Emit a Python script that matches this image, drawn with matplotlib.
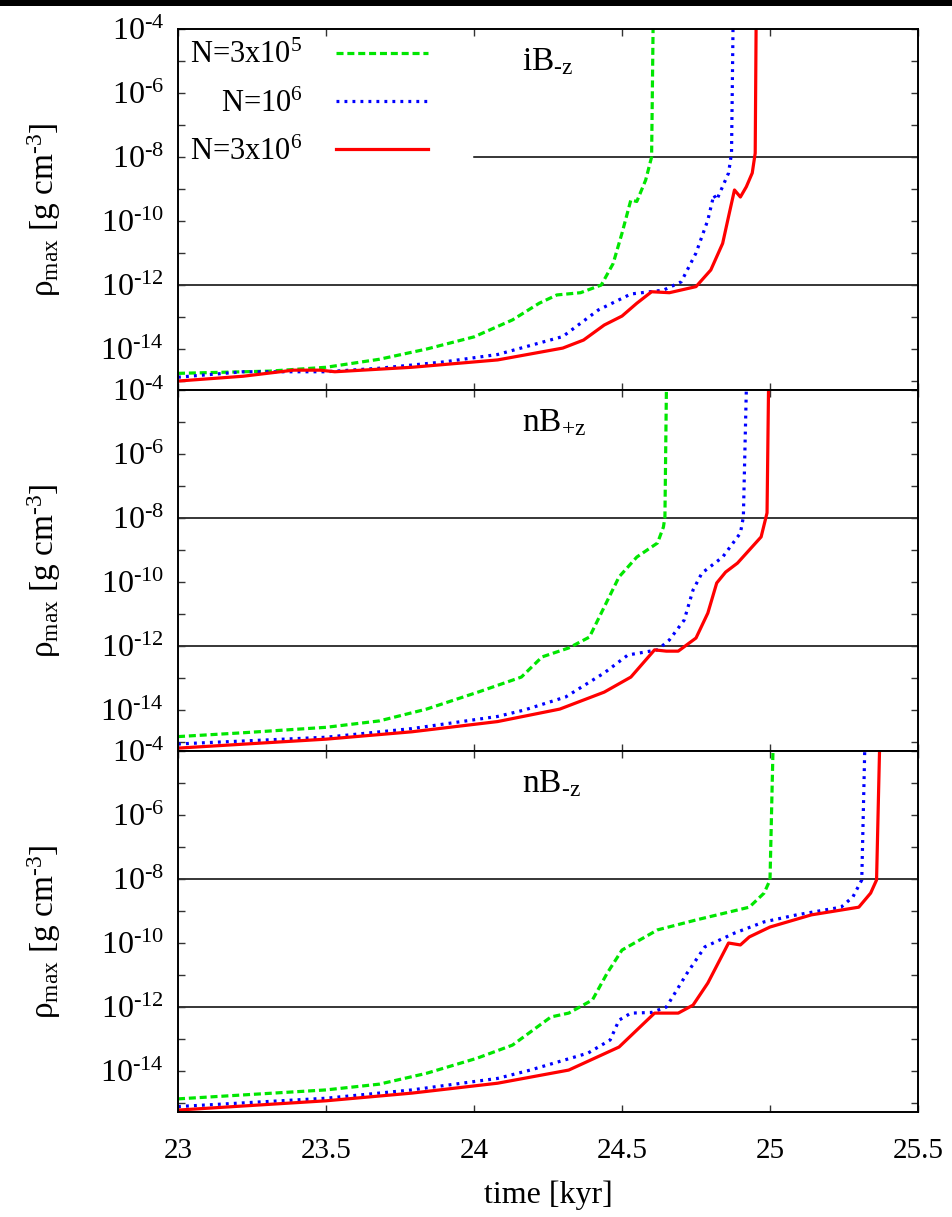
import numpy as np
import matplotlib
matplotlib.use("Agg")
from matplotlib import pyplot as plt
from matplotlib.patches import Rectangle
from matplotlib.ticker import FixedLocator, FuncFormatter, NullFormatter

plt.rcParams['font.family'] = ['Liberation Serif', 'DejaVu Serif']
plt.rcParams['mathtext.fontset'] = 'custom'
plt.rcParams['mathtext.rm'] = 'Liberation Serif'
plt.rcParams['mathtext.it'] = 'Liberation Serif:italic'
plt.rcParams['mathtext.bf'] = 'Liberation Serif:bold'

HY = '\u2010'  # short hyphen, like the gnuplot labels

# ---- data: time [kyr] and log10(rho_max [g cm^-3]) ----
# panel iB-z
ib_t_3e5 = [23.0, 23.31, 23.5, 23.68, 23.84, 24.0, 24.13, 24.22, 24.28, 24.36, 24.43,
            24.47, 24.50, 24.53, 24.55, 24.58, 24.60, 24.605]
ib_r_3e5 = [-14.76, -14.69, -14.57, -14.32, -14.0, -13.62, -13.09, -12.57, -12.31, -12.24, -12.0,
            -11.33, -10.38, -9.34, -9.39, -8.72, -8.0, -4.0]
ib_t_1e6 = [23.0, 23.22, 23.5, 23.68, 23.9, 24.08, 24.30, 24.42, 24.53, 24.64, 24.70,
            24.75, 24.79, 24.81, 24.82, 24.86, 24.87, 24.875]
ib_r_1e6 = [-14.88, -14.71, -14.71, -14.6, -14.4, -14.17, -13.61, -12.78, -12.28, -12.16, -11.9,
            -11.0, -9.97, -9.19, -9.34, -8.5, -7.88, -4.0]
ib_t_3e6 = [23.0, 23.22, 23.39, 23.48, 23.53, 23.79, 24.08, 24.30, 24.37, 24.44, 24.50, 24.55,
            24.60, 24.66, 24.75, 24.80, 24.84, 24.86, 24.88, 24.90, 24.92, 24.94, 24.95, 24.953]
ib_r_3e6 = [-15.0, -14.85, -14.66, -14.66, -14.71, -14.57, -14.34, -13.97, -13.72, -13.25, -12.97, -12.57,
            -12.21, -12.24, -12.05, -11.53, -10.7, -9.86, -9.03, -9.25, -8.93, -8.5, -7.88, -4.0]

# panel nB+z
npz_t_3e5 = [23.0, 23.22, 23.5, 23.68, 23.84, 24.02, 24.16, 24.23, 24.32, 24.39, 24.44,
             24.49, 24.55, 24.62, 24.64, 24.645, 24.65]
npz_r_3e5 = [-14.83, -14.71, -14.54, -14.34, -13.97, -13.42, -12.97, -12.34, -12.06, -11.72, -10.78,
             -9.84, -9.22, -8.78, -8.28, -7.97, -4.0]
npz_t_1e6 = [23.0, 23.5, 23.79, 24.08, 24.17, 24.31, 24.44, 24.52, 24.62, 24.66, 24.71,
             24.74, 24.77, 24.84, 24.90, 24.91, 24.92]
npz_r_1e6 = [-15.06, -14.85, -14.58, -14.2, -14.0, -13.59, -12.84, -12.28, -12.12, -11.81, -11.19,
             -10.25, -9.72, -9.22, -8.47, -7.97, -4.0]
npz_t_3e6 = [23.0, 23.5, 23.79, 24.08, 24.29, 24.44, 24.53, 24.61, 24.65, 24.69, 24.75,
             24.79, 24.82, 24.85, 24.89, 24.93, 24.97, 24.99, 24.995]
npz_r_3e6 = [-15.19, -14.91, -14.68, -14.36, -13.97, -13.44, -12.97, -12.12, -12.16, -12.16, -11.75,
             -10.97, -10.03, -9.69, -9.41, -9.0, -8.59, -7.84, -4.0]

# panel nB-z
nmz_t_3e5 = [23.0, 23.5, 23.68, 23.84, 24.01, 24.13, 24.26, 24.32, 24.40, 24.45, 24.50,
             24.62, 24.75, 24.93, 24.98, 25.00, 25.01]
nmz_r_3e5 = [-14.87, -14.59, -14.41, -14.07, -13.6, -13.19, -12.31, -12.19, -11.78, -10.94, -10.22,
             -9.59, -9.28, -8.88, -8.44, -8.03, -4.0]
nmz_t_1e6 = [23.0, 23.5, 23.79, 24.08, 24.19, 24.385, 24.46, 24.49, 24.53, 24.60, 24.65, 24.72,
             24.78, 24.88, 24.98, 25.09, 25.24, 25.28, 25.31, 25.32]
nmz_r_1e6 = [-15.11, -14.85, -14.59, -14.23, -13.97, -13.44, -13.03, -12.41, -12.19, -12.17, -12.0, -10.94,
             -10.12, -9.69, -9.34, -9.12, -8.88, -8.56, -8.03, -4.0]
nmz_t_3e6 = [23.0, 23.5, 23.79, 24.08, 24.32, 24.49, 24.55, 24.61, 24.69, 24.74, 24.79, 24.86,
             24.90, 24.93, 25.0, 25.14, 25.30, 25.34, 25.36, 25.37]
nmz_r_3e6 = [-15.22, -14.93, -14.69, -14.38, -13.97, -13.25, -12.72, -12.19, -12.19, -11.94, -11.25, -10.0,
             -10.06, -9.81, -9.5, -9.12, -8.88, -8.44, -8.03, -4.0]

panel_names = [r'iB$_{\rm %sz}$' % HY, r'nB$_{\rm {+}z}$', r'nB$_{\rm %sz}$' % HY]
series_labels = [r'N=3x10$^{5}$', r'N=10$^{6}$', r'N=3x10$^{6}$']
panels = [
    [(ib_t_3e5, ib_r_3e5), (ib_t_1e6, ib_r_1e6), (ib_t_3e6, ib_r_3e6)],
    [(npz_t_3e5, npz_r_3e5), (npz_t_1e6, npz_r_1e6), (npz_t_3e6, npz_r_3e6)],
    [(nmz_t_3e5, nmz_r_3e5), (nmz_t_1e6, nmz_r_1e6), (nmz_t_3e6, nmz_r_3e6)],
]
xticks = [23, 23.5, 24, 24.5, 25, 25.5]
ref_levels = [1e-8, 1e-12]

# ---- styles ----
styles = [
    dict(color='#00e600', lw=2.3, ls=(0, (2.2, 1.2))),
    dict(color='#0000ff', lw=2.3, ls=(0, (0.9, 1.6))),
    dict(color='#ff0000', lw=2.3, ls='-'),
]


def ylab(v, p):
    e = int(round(np.log10(v)))
    return r'$10^{%s%d}$' % (HY, abs(e))


W, H = 953, 1217
fig = plt.figure(figsize=(W / 100, H / 100), dpi=100)
fig.add_artist(Rectangle((0, 1 - 6 / H), 1, 6 / H, transform=fig.transFigure,
                         color='black', lw=0))

left = 178 / W
width = (918 - 178) / W
tops = [29, 390, 751]
ph = 361

for i, (name, curves) in enumerate(zip(panel_names, panels)):
    ax = fig.add_axes([left, 1 - (tops[i] + ph) / H, width, ph / H])
    for (t, r), st, lab in zip(curves, styles, series_labels):
        ax.plot(t, 10 ** np.array(r), label=lab, **st)
    for lev in ref_levels:
        xmin = 0.4 if (i == 0 and lev == 1e-8) else 0.0
        ax.axhline(lev, xmin=xmin, color='black', lw=1.1, zorder=1)

    ax.set_yscale('log')
    ax.set_xlim(23, 25.5)
    ax.set_ylim(10 ** -15.28, 1e-4)
    ax.yaxis.set_major_locator(FixedLocator([10.0 ** e for e in range(-14, -3, 2)]))
    ax.yaxis.set_minor_locator(FixedLocator([10.0 ** e for e in range(-15, -4, 2)]))
    ax.yaxis.set_major_formatter(FuncFormatter(ylab))
    ax.yaxis.set_minor_formatter(NullFormatter())
    ax.xaxis.set_major_locator(FixedLocator(xticks))
    ax.xaxis.set_major_formatter(FuncFormatter(lambda v, p: '%g' % v))

    ax.tick_params(which='both', direction='in', top=True, right=True,
                   length=5, width=1.0, color='#333333')
    ax.tick_params(axis='y', labelsize=23, pad=10)
    ax.tick_params(axis='x', labelsize=21, pad=19)
    if i < 2:
        ax.tick_params(axis='x', labelbottom=False)
    for s in ax.spines.values():
        s.set_linewidth(1.4)

    ax.set_ylabel(r'ρ$_{\rm max}$ [g cm$^{%s3}$]' % HY, fontsize=24)
    ax.yaxis.set_label_coords(-0.155, 0.5)

    ax.text(0.465, 0.887, name, transform=ax.transAxes, fontsize=24,
            ha='left', va='baseline')

    if i == 0:
        ax.legend(loc='upper left', bbox_to_anchor=(0.0, 1.0), frameon=False,
                  markerfirst=False, handlelength=3.0, handletextpad=1.1,
                  labelspacing=0.62, fontsize=22, borderaxespad=0.2,
                  borderpad=0.2)
    if i == 2:
        ax.set_xlabel('time [kyr]', fontsize=23)
        ax.xaxis.set_label_coords(0.5, -0.19)

fig.savefig('out.png', dpi=100)
